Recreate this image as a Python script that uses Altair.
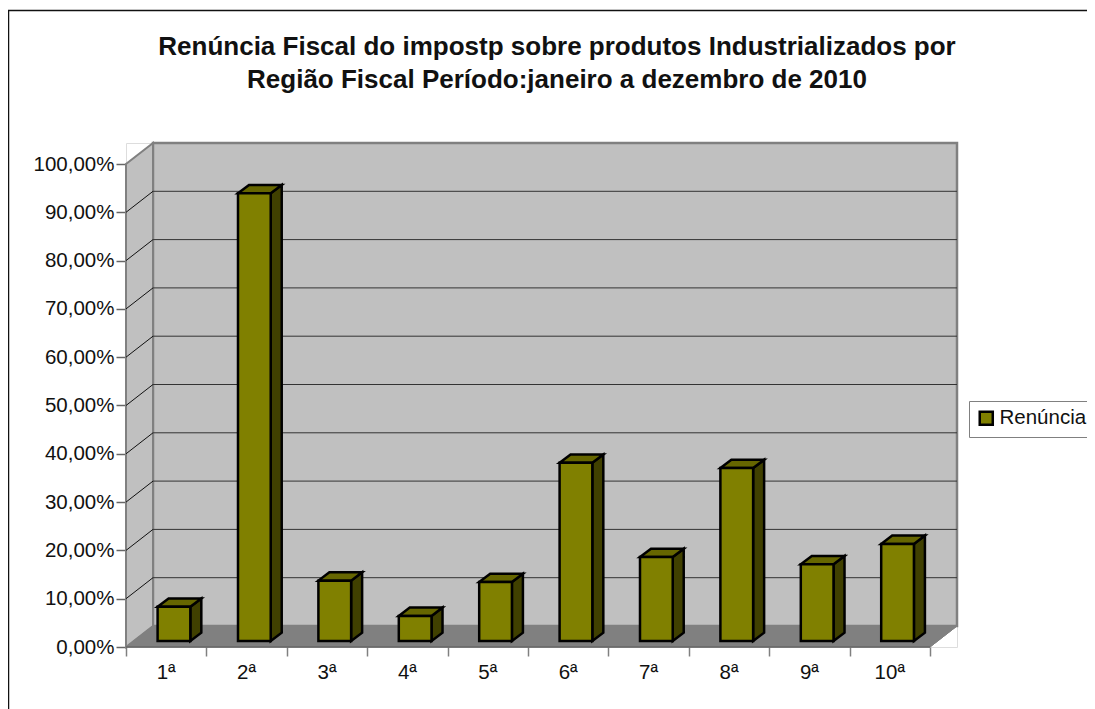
import altair as alt
import pandas as pd

categories = ["1ª", "2ª", "3ª", "4ª", "5ª", "6ª", "7ª", "8ª", "9ª", "10ª"]
values = [7.1, 92.7, 12.5, 5.2, 12.2, 36.9, 17.4, 35.8, 15.9, 20.1]
y_ticks = [0, 10, 20, 30, 40, 50, 60, 70, 80, 90, 100]
title_lines = ["Renúncia Fiscal do impostp sobre produtos Industrializados por",
               "Região Fiscal Período:janeiro a dezembro de 2010"]
series_name = "Renúncia"

FONT = "Liberation Sans"
W, H = 831, 504
X_MAX = W / 80.4
Y_MAX = H / 4.83
XD, YD = 27 / 80.4, 21 / 4.83        # depth of the 3D box, in data units
BX, BW = 0.393, 0.407                # bar offset and width inside a category
BDX, BDY = 11 / 80.4, 8.3 / 4.83     # depth of a bar
BASE = 6 / 4.83                      # bars stand on the middle of the floor

x_scale = alt.Scale(domain=[0, X_MAX], nice=False, zero=False)
y_scale = alt.Scale(domain=[0, Y_MAX], nice=False, zero=False)
x_axis = alt.Axis(orient="bottom", values=list(range(11)), labels=False, title=None, grid=False,
                  domain=False, ticks=True, tickColor="#808080", tickSize=9, tickWidth=1.5)
y_axis = alt.Axis(orient="left", values=y_ticks, title=None, grid=False, domain=False,
                  tickColor="#666666", tickSize=10, tickWidth=1.5, labelFont=FONT, labelFontSize=20.5,
                  labelColor="#111111", labelPadding=2,
                  labelExpr="replace(format(datum.value,'.2f'),'.',',')+'%'")
X = lambda f="x": alt.X(f"{f}:Q", scale=x_scale, axis=x_axis)
Y = lambda f="y": alt.Y(f"{f}:Q", scale=y_scale, axis=y_axis)
Y2 = alt.Y2("y2:Q")

# frame of the whole picture (its right and bottom sides lie beyond the page)
frame = alt.Chart(pd.DataFrame({"a": [0]})).mark_rect(
    fillOpacity=0, stroke="#111111", strokeWidth=1.5
).encode(x=alt.value(-117.5), x2=alt.value(1200), y=alt.value(-132.5), y2=alt.value(800))

# back wall
back = alt.Chart(pd.DataFrame({"x": [XD], "x2": [XD + 10], "y": [YD], "y2": [YD + 100]})).mark_rect(
    fill="#c0c0c0", stroke="#808080", strokeWidth=2.5
).encode(x=X(), x2="x2:Q", y=Y(), y2=Y2)

# side wall
side_wall = alt.Chart(pd.DataFrame({"x": [0, XD], "y": [0, YD], "y2": [100, 100 + YD]})).mark_area(
    orient="vertical", fill="#c0c0c0", stroke="#808080", strokeWidth=2, opacity=1
).encode(x=X(), y=Y(), y2=Y2)

# floor
floor = alt.Chart(pd.DataFrame({"x": [0, XD, 10, 10 + XD], "y": [0, 0, 0, YD], "y2": [0, YD, YD, YD]})).mark_area(
    orient="vertical", fill="#808080", stroke="#808080", strokeWidth=1, opacity=1
).encode(x=X(), y=Y(), y2=Y2)

# gridlines on the back and on the side wall
grid_values = y_ticks[1:-1]
grid_back = alt.Chart(pd.DataFrame({"x": [XD] * len(grid_values), "x2": [XD + 10] * len(grid_values),
                                    "y": [v + YD for v in grid_values]})).mark_rule(
    color="#333333", strokeWidth=1
).encode(x=X(), x2="x2:Q", y=Y())
diag = pd.DataFrame([{"t": v, "x": x, "y": v + d} for v in y_ticks[1:-1] for x, d in ((0, 0), (XD, YD))])
grid_side = alt.Chart(diag).mark_line(color="#111111", strokeWidth=1).encode(x=X(), y=Y(), detail="t:N")

front_edge = alt.Chart(pd.DataFrame({"x": [0], "x2": [10], "y": [0]})).mark_rule(
    color="#666666", strokeWidth=1.5).encode(x=X(), x2="x2:Q", y=Y())
right_edge = alt.Chart(pd.DataFrame({"x": [10, 10 + XD], "y": [0, YD]})).mark_line(
    color="#808080", strokeWidth=1).encode(x=X(), y=Y())

# bars
side_rows, top_rows, front_rows = [], [], []
for i, (c, v) in enumerate(zip(categories, values)):
    a = i + BX
    b = a + BW
    t = v + BASE
    side_rows += [{"c": c, "x": b, "y": BASE, "y2": t},
                  {"c": c, "x": b + BDX, "y": BASE + BDY, "y2": t + BDY}]
    top_rows += [{"c": c, "x": a, "y": t, "y2": t},
                 {"c": c, "x": a + BDX, "y": t, "y2": t + BDY},
                 {"c": c, "x": b, "y": t, "y2": t + BDY},
                 {"c": c, "x": b + BDX, "y": t + BDY, "y2": t + BDY}]
    front_rows.append({"c": c, "x": a, "x2": b, "y": BASE, "y2": t, "serie": series_name})

bar_side = alt.Chart(pd.DataFrame(side_rows)).mark_area(
    orient="vertical", fill="#404000", stroke="black", strokeWidth=2.5, opacity=1, strokeJoin="miter"
).encode(x=X(), y=Y(), y2=Y2, detail="c:N")
bar_top = alt.Chart(pd.DataFrame(top_rows)).mark_area(
    orient="vertical", fill="#666600", stroke="black", strokeWidth=2.5, opacity=1, strokeJoin="miter"
).encode(x=X(), y=Y(), y2=Y2, detail="c:N")
bar_front = alt.Chart(pd.DataFrame(front_rows)).mark_rect(stroke="black", strokeWidth=2.5).encode(
    x=X(), x2="x2:Q", y=Y(), y2=Y2,
    fill=alt.Fill("serie:N", scale=alt.Scale(range=["#808000"]), legend=alt.Legend(
        title=None, orient="none", legendX=843, legendY=258, fillColor="white",
        strokeColor="#808080", padding=7, symbolType="square", symbolSize=170,
        symbolStrokeColor="black", symbolStrokeWidth=2.5, labelFont=FONT, labelFontSize=20.5,
        labelColor="#111111", labelOffset=3)),
)

# category labels
labels = alt.Chart(pd.DataFrame({"x": [i + 0.5 for i in range(10)], "c": categories})).mark_text(
    font=FONT, fontSize=20.5, color="#111111", baseline="middle", align="center"
).encode(x=X(), y=alt.value(H + 26), text="c:N")

# title, two lines
title1 = alt.Chart(pd.DataFrame({"t": title_lines[:1]})).mark_text(
    font=FONT, fontSize=26, fontWeight="bold", color="#111111", align="center", baseline="alphabetic"
).encode(x=alt.value(431), y=alt.value(-88), text="t:N")
title2 = alt.Chart(pd.DataFrame({"t": title_lines[1:]})).mark_text(
    font=FONT, fontSize=26, fontWeight="bold", color="#111111", align="center", baseline="alphabetic"
).encode(x=alt.value(431), y=alt.value(-55), text="t:N")

chart = alt.layer(
    frame, back, side_wall, floor, grid_back, grid_side, right_edge, front_edge,
    bar_side, bar_top, bar_front, labels, title1, title2,
).properties(
    width=W, height=H,
    padding={"left": 118, "top": 135, "right": 130, "bottom": 62},
    autosize=alt.AutoSizeParams(type="none"),
).configure_view(stroke=None).configure(background="white")

chart.save("out.html", embed_options={"renderer": "svg", "actions": False})
